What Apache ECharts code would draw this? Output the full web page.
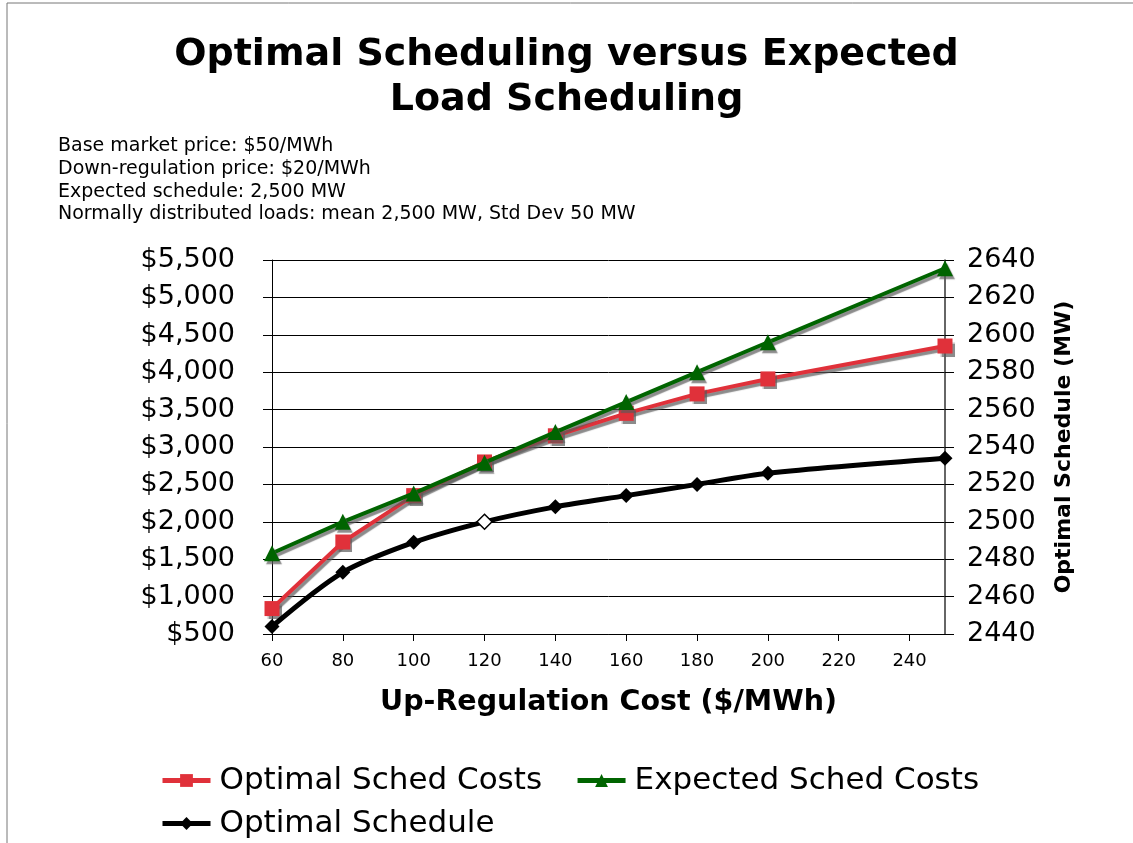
<!DOCTYPE html>
<html>
<head>
<meta charset="utf-8">
<script src="https://cdn.jsdelivr.net/npm/echarts@6/dist/echarts.min.js"></script>
<style>
  html, body { margin: 0; padding: 0; background: #fff; }
  #chart { width: 1133px; height: 843px; }
</style>
</head>
<body>
<div id="chart"></div>
<script>
var FONT = 'DejaVu Sans'

// up-regulation cost ($/MWh)
var upCost = [60, 80, 100, 120, 140, 160, 180, 200, 250]
// costs ($)
var optimalCosts = [840, 1730, 2350, 2800, 3150, 3450, 3710, 3910, 4350]
var expectedCosts = [1580, 2000, 2380, 2790, 3200, 3600, 4000, 4400, 5390]
// optimal schedule (MW)
var optimalSchedule = [2444, 2473, 2489, 2500, 2508, 2514, 2520, 2526, 2534]

var notes = [
  'Base market price: $50/MWh',
  'Down-regulation price: $20/MWh',
  'Expected schedule: 2,500 MW',
  'Normally distributed loads: mean 2,500 MW, Std Dev 50 MW'
]

function pairs (ys) {
  var out = []
  for (var i = 0; i < upCost.length; i++) out.push([upCost[i], ys[i]])
  return out
}

var shadow = {
  shadowColor: 'rgba(90,90,90,0.7)',
  shadowBlur: 1,
  shadowOffsetX: 2,
  shadowOffsetY: 3
}

var schedData = pairs(optimalSchedule)
// the 120 point is drawn hollow in the original
schedData[3] = { value: schedData[3], itemStyle: { color: '#fff', borderColor: '#000', borderWidth: 1.5 } }

var legendText = { fontFamily: FONT, fontSize: 31, color: '#000', padding: [0, 0, 0, 4] }

var myChart = echarts.init(document.getElementById('chart'))
var option = {
  backgroundColor: '#fff',
  animation: false,
  textStyle: { fontFamily: FONT },
  title: {
    text: 'Optimal Scheduling versus Expected\nLoad Scheduling',
    left: 'center',
    top: 28,
    textStyle: { fontFamily: FONT, fontSize: 38, fontWeight: 'bold', color: '#000', lineHeight: 45 }
  },
  graphic: [
    {
      type: 'rect',
      shape: { x: 7, y: 3, width: 1140, height: 860 },
      style: { fill: 'none', stroke: '#777', lineWidth: 1 },
      silent: true
    },
    {
      type: 'text',
      left: 58,
      top: 135,
      style: {
        text: notes.join('\n'),
        font: '19px "DejaVu Sans"',
        lineHeight: 22.7,
        fill: '#000'
      }
    }
  ],
  legend: [
    {
      data: ['Optimal Sched Costs', 'Expected Sched Costs'],
      left: 155,
      top: 760,
      itemWidth: 48,
      itemHeight: 16,
      itemGap: 33,
      lineStyle: { width: 5, shadowColor: 'transparent' },
      itemStyle: { shadowColor: 'transparent' },
      textStyle: legendText
    },
    {
      data: ['Optimal Schedule'],
      left: 155,
      top: 803,
      itemWidth: 48,
      itemHeight: 16,
      lineStyle: { width: 5, shadowColor: 'transparent' },
      itemStyle: { shadowColor: 'transparent' },
      textStyle: legendText
    }
  ],
  grid: { left: 272, right: 188, top: 260, bottom: 209 },
  xAxis: {
    type: 'value',
    min: 60,
    max: 250,
    interval: 20,
    name: 'Up-Regulation Cost ($/MWh)',
    nameLocation: 'middle',
    nameGap: 54,
    nameTextStyle: { fontFamily: FONT, fontSize: 28.5, fontWeight: 'bold', color: '#000' },
    axisLine: { lineStyle: { color: '#000', width: 1 } },
    axisTick: { length: 7, lineStyle: { color: '#000' } },
    axisLabel: { fontFamily: FONT, fontSize: 18, color: '#000', margin: 18, showMaxLabel: false },
    splitLine: { show: false }
  },
  yAxis: [
    {
      type: 'value',
      min: 500,
      max: 5500,
      interval: 500,
      axisLine: { show: true, lineStyle: { color: '#000', width: 1 } },
      axisTick: { show: true, length: 9, lineStyle: { color: '#000' } },
      axisLabel: {
        fontFamily: FONT,
        fontSize: 27,
        color: '#000',
        margin: 37,
        formatter: function (v) { return '$' + v.toLocaleString('en-US') }
      },
      splitLine: { lineStyle: { color: '#000', width: 1 } }
    },
    {
      type: 'value',
      min: 2440,
      max: 2640,
      interval: 20,
      position: 'right',
      name: 'Optimal Schedule (MW)',
      nameLocation: 'middle',
      nameRotate: 90,
      nameGap: 108,
      nameTextStyle: { fontFamily: FONT, fontSize: 22, fontWeight: 'bold', color: '#000' },
      axisLine: { show: true, lineStyle: { color: '#333', width: 1.5 } },
      axisTick: { show: true, length: 9, lineStyle: { color: '#000' } },
      axisLabel: {
        fontFamily: FONT,
        fontSize: 27,
        color: '#000',
        margin: 22,
        formatter: function (v) { return String(v) }
      },
      splitLine: { show: false }
    }
  ],
  series: [
    {
      name: 'Optimal Sched Costs',
      type: 'line',
      yAxisIndex: 0,
      data: pairs(optimalCosts),
      symbol: 'rect',
      symbolSize: 15,
      color: '#E0313A',
      lineStyle: Object.assign({ color: '#E0313A', width: 4 }, shadow),
      itemStyle: Object.assign({ color: '#E0313A' }, shadow),
      z: 3
    },
    {
      name: 'Expected Sched Costs',
      type: 'line',
      yAxisIndex: 0,
      data: pairs(expectedCosts),
      symbol: 'triangle',
      symbolSize: 16,
      color: '#006400',
      lineStyle: Object.assign({ color: '#006400', width: 4 }, shadow),
      itemStyle: Object.assign({ color: '#006400' }, shadow),
      z: 4
    },
    {
      name: 'Optimal Schedule',
      type: 'line',
      yAxisIndex: 1,
      data: schedData,
      smooth: 0.3,
      symbol: 'diamond',
      symbolSize: 15,
      color: '#000',
      lineStyle: { color: '#000', width: 5 },
      itemStyle: { color: '#000' },
      z: 5
    }
  ]
}
myChart.setOption(option)
</script>
</body>
</html>
